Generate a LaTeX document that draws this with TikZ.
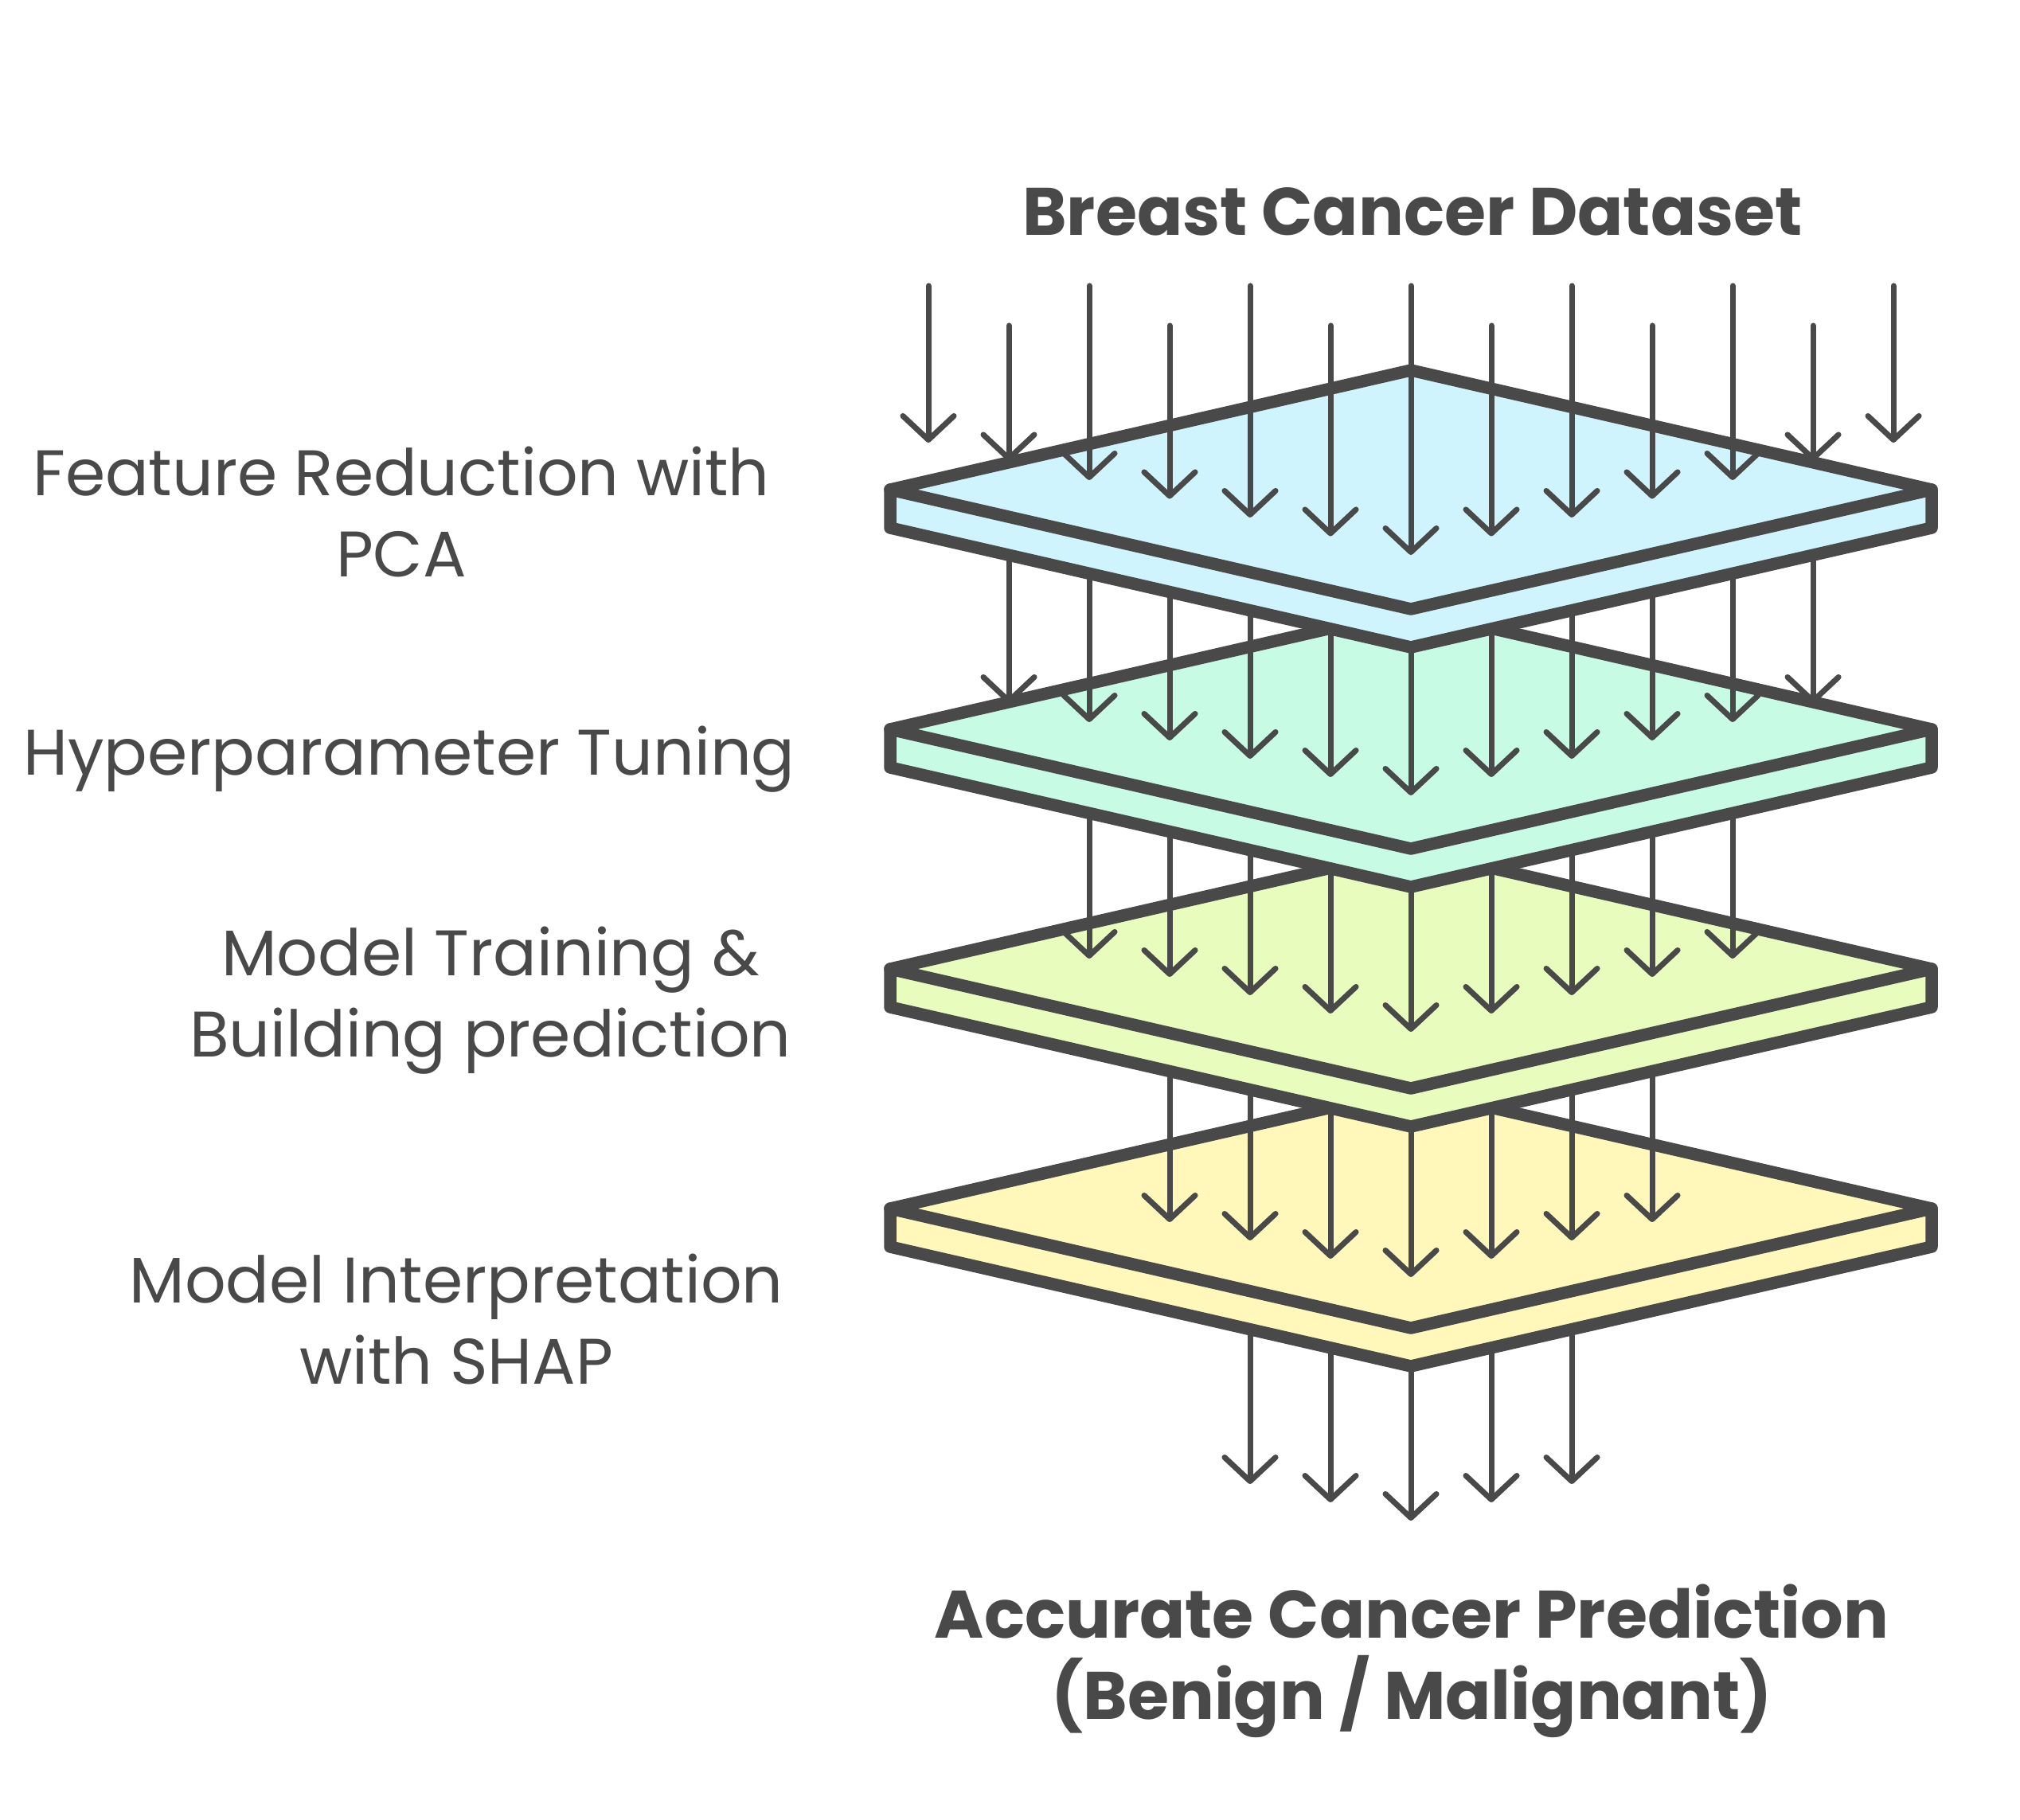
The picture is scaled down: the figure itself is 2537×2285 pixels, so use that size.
\documentclass[tikz,border=0pt]{standalone}
\usepackage{fontspec}
\setmainfont{Poppins}
\usetikzlibrary{arrows.meta}

\definecolor{ink}{RGB}{73,73,73}
\definecolor{skyfill}{RGB}{208,244,253}
\definecolor{mintfill}{RGB}{200,251,228}
\definecolor{limefill}{RGB}{232,252,190}
\definecolor{creamfill}{RGB}{255,248,186}

\tikzset{
  slabline/.style={draw=ink, line width=4.4pt, line join=round, line cap=round},
  flow/.style={draw=ink, line width=2pt, line cap=round,
    -{Straight Barb[length=3mm, width=6.4mm, round]}},
  lbl/.style={text=ink, align=center, inner sep=0pt,
    font=\fontsize{23}{29}\selectfont},
  headlbl/.style={lbl, font=\fontsize{24}{29}\selectfont\bfseries}
}

% one slab: #1 = y of the side corners, #2 = fill colour
\newcommand{\slab}[2]{
  \fill[#2] (1118,#1) -- (1772,#1-150) -- (2426,#1) -- (2426,#1+48)
    -- (1772,#1+198) -- (1118,#1+48) -- cycle;
  \draw[slabline] (1118,#1) -- (1772,#1-150) -- (2426,#1) -- (2426,#1+48)
    -- (1772,#1+198) -- (1118,#1+48) -- cycle;
  \draw[slabline] (1118,#1) -- (1772,#1+150) -- (2426,#1);
}

% arrows falling onto a slab: #1 = start y, #2 = tip y of the middle one, #3 = columns each side
\newcommand{\drops}[3]{
  \foreach \k in {-#3,...,#3}
    \draw[flow] ({1772+101*\k},#1) -- ({1772+101*\k},{#2-23*abs(\k)});
}

\begin{document}
\begin{tikzpicture}[x=0.01cm, y=-0.01cm]
    \useasboundingbox (0,0) rectangle (2537,2285);

% out of the last slab
    \drops{1518}{1910}{2}
    \slab{1518}{creamfill}
    \drops{1217}{1604}{3}
    \slab{1217}{limefill}
    \drops{916}{1296}{4}
    \slab{916}{mintfill}
    \drops{615}{999}{5}
    \slab{615}{skyfill}

% data coming in from above
    \foreach \k in {-6,...,6} {
      \pgfmathsetmacro\sy{ifthenelse(mod(abs(\k),2)==1,409,359)}
      \draw[flow] ({1772+101*\k},\sy) -- ({1772+101*\k},{697-23.5*abs(\k)});
    }

% labels
    \node[headlbl] (dataset) at (1774,266) {Breast Cancer Dataset};
    \node[headlbl] (result) at (1773,2086) {Accurate Cancer Prediction\\(Benign / Malignant)};
    \node[lbl] (pca) at (504,643) {Feature Reduction with\\PCA};
    \node[lbl] (tuning) at (514,954) {Hyperparameter Tuning};
    \node[lbl] (training) at (616,1257) {Model Training \&\\Building prediction};
    \node[lbl] (shap) at (573,1657) {Model Interpretation\\with SHAP};
\end{tikzpicture}
\end{document}
